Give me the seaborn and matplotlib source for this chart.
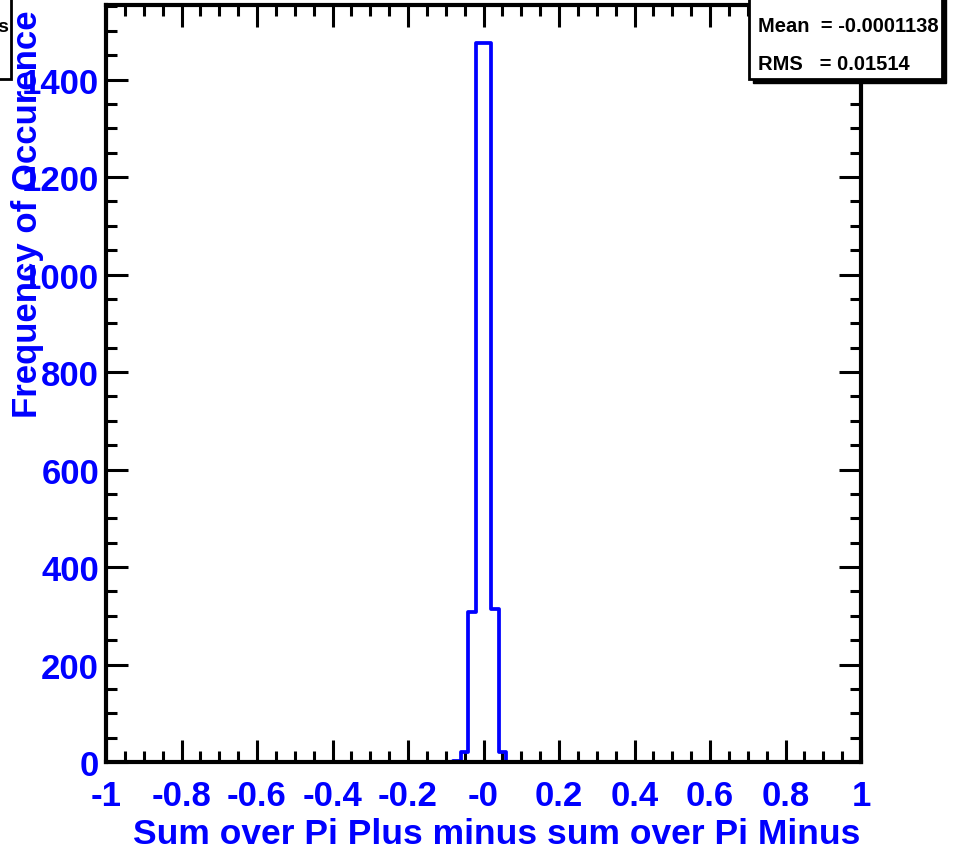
import numpy as np
import pandas as pd
import matplotlib
matplotlib.use("Agg")
import matplotlib.pyplot as plt
import matplotlib.ticker as mticker
from matplotlib.patches import Rectangle
import seaborn as sns

# bin centres (width 0.02) and contents of the non-empty bins
bin_centers = [-0.07, -0.05, -0.03, -0.01, 0.01, 0.03, 0.05]
bin_counts = [3, 20, 308, 1475, 1475, 314, 20]

x_ticks = [-1, -0.8, -0.6, -0.4, -0.2, 0, 0.2, 0.4, 0.6, 0.8, 1]
x_tick_labels = ["-1", "-0.8", "-0.6", "-0.4", "-0.2", "-0", "0.2", "0.4", "0.6", "0.8", "1"]
y_ticks = [0, 200, 400, 600, 800, 1000, 1200, 1400]

stat_lines = ["Mean  = -0.0001138", "RMS   = 0.01514"]

BLUE = "#0000ff"

sns.set_theme(style="ticks")
plt.rcParams["font.family"] = ["Liberation Sans", "DejaVu Sans"]

df = pd.DataFrame({"x": bin_centers, "n": bin_counts})

W, H = 957, 853
fig = plt.figure(figsize=(W / 100, H / 100), dpi=100)
ax = fig.add_axes([106 / W, 1 - 763 / H, (861 - 106) / W, (763 - 6) / H])

sns.histplot(data=df, x="x", weights="n", bins=100, binrange=(-1, 1),
             element="step", fill=False, color=BLUE, linewidth=2.7, ax=ax)

ax.set_xlim(-1, 1)
ax.set_ylim(0, 1553)
ax.set_xlabel("")
ax.set_ylabel("")

ax.xaxis.set_major_locator(mticker.FixedLocator(x_ticks))
ax.xaxis.set_major_formatter(mticker.FixedFormatter(x_tick_labels))
ax.xaxis.set_minor_locator(mticker.MultipleLocator(0.05))
ax.yaxis.set_major_locator(mticker.FixedLocator(y_ticks))
ax.yaxis.set_minor_locator(mticker.MultipleLocator(50))

ax.tick_params(which="both", direction="in", top=True, right=True,
               color="black", width=2.2)
ax.tick_params(which="major", length=16)
ax.tick_params(which="minor", length=8)
ax.tick_params(axis="x", which="major", pad=12, labelsize=25, labelcolor=BLUE)
ax.tick_params(axis="y", which="major", pad=5, labelsize=25, labelcolor=BLUE)
for lab in ax.get_xticklabels() + ax.get_yticklabels():
    lab.set_fontweight("bold")

for sp in ax.spines.values():
    sp.set_linewidth(3)
    sp.set_color("black")
    sp.set_zorder(5)

# axis titles, ROOT style (right / top aligned)
fig.text(860 / W, 1 - 835 / H, "Sum over Pi Plus minus sum over Pi Minus",
         ha="right", va="center", fontsize=25.5, fontweight="bold", color=BLUE)
fig.text(28 / W, 1 - 214 / H, "Frequency of Occurence", rotation=90,
         ha="center", va="center", fontsize=25, fontweight="bold", color=BLUE)

# stats box (top right) with shadow
bx0, bx1, by1 = 749 / W, 942 / W, 1 - 80 / H
fig.patches.append(Rectangle((bx0 + 4 / W, by1 - 4 / H), bx1 - bx0, 1.1 - by1,
                             transform=fig.transFigure, facecolor="black",
                             edgecolor="black", zorder=10))
box = Rectangle((bx0, by1), bx1 - bx0, 1.1 - by1,
                transform=fig.transFigure, facecolor="white",
                edgecolor="black", linewidth=2, zorder=11)
fig.patches.append(box)
for i, line in enumerate(stat_lines):
    t = fig.text(758 / W, 1 - (27 + 38 * i) / H, line, ha="left", va="center",
                 fontsize=14.5, fontweight="bold", color="black", zorder=12)
    t.set_clip_path(box)

# clipped box at top left
fig.patches.append(Rectangle((-20 / W, 1 - 80 / H), 31 / W, 0.2,
                             transform=fig.transFigure, facecolor="white",
                             edgecolor="black", linewidth=2, zorder=11))
fig.text(8 / W, 1 - 28 / H, "s", ha="right", va="center", fontsize=14,
         fontweight="bold", color="black", zorder=12)

fig.savefig("out.png", dpi=100)
